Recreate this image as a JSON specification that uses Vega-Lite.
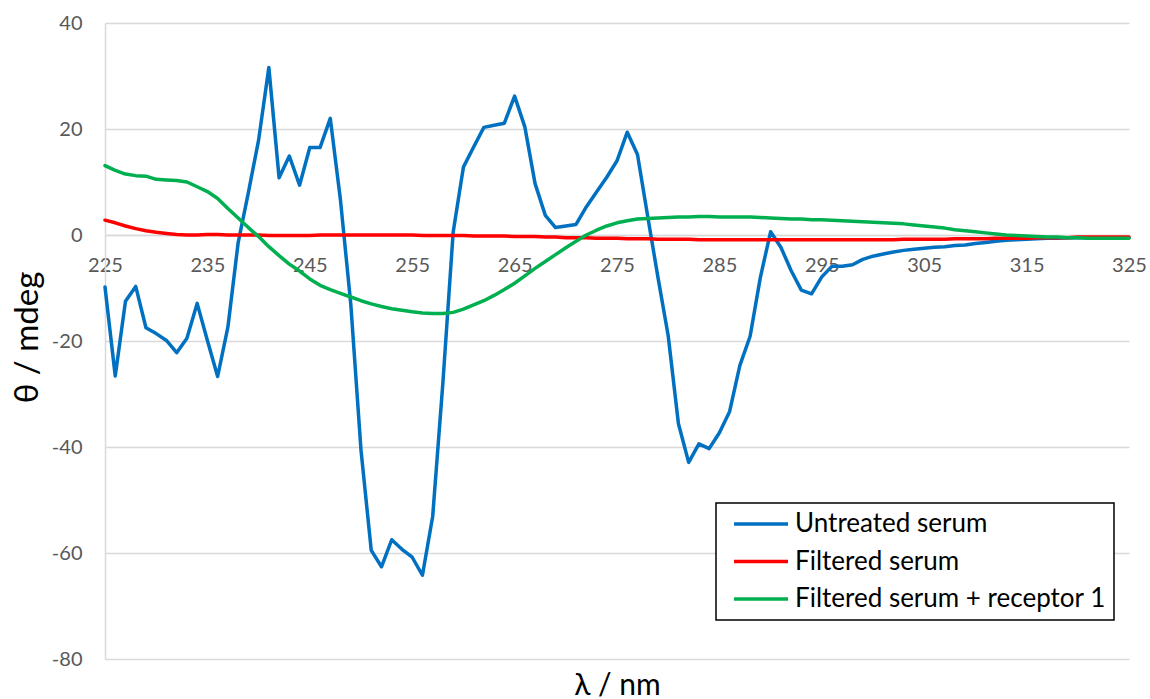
{
  "$schema": "https://vega.github.io/schema/vega-lite/v6.json",
  "width": 1024,
  "height": 636,
  "autosize": {"type": "none"},
  "padding": {"left": 105, "top": 23, "right": 21, "bottom": 40},
  "background": "white",
  "config": {
    "font": "Lato",
    "view": {"stroke": null},
    "legend": {"strokeWidth": 1.5}
  },
  "data": {
    "values": [
      {"wl":225,"Untreated serum":-9.8,"Filtered serum":2.8,"Filtered serum + receptor 1":13.1},
      {"wl":226,"Untreated serum":-26.6,"Filtered serum":2.3,"Filtered serum + receptor 1":12.2},
      {"wl":227,"Untreated serum":-12.5,"Filtered serum":1.7,"Filtered serum + receptor 1":11.5},
      {"wl":228,"Untreated serum":-9.7,"Filtered serum":1.2,"Filtered serum + receptor 1":11.2},
      {"wl":229,"Untreated serum":-17.5,"Filtered serum":0.8,"Filtered serum + receptor 1":11.1},
      {"wl":230,"Untreated serum":-18.6,"Filtered serum":0.5,"Filtered serum + receptor 1":10.5},
      {"wl":231,"Untreated serum":-19.9,"Filtered serum":0.3,"Filtered serum + receptor 1":10.4},
      {"wl":232,"Untreated serum":-22.2,"Filtered serum":0.1,"Filtered serum + receptor 1":10.3},
      {"wl":233,"Untreated serum":-19.5,"Filtered serum":0.0,"Filtered serum + receptor 1":10.0},
      {"wl":234,"Untreated serum":-12.9,"Filtered serum":0.0,"Filtered serum + receptor 1":9.1},
      {"wl":235,"Untreated serum":-19.9,"Filtered serum":0.1,"Filtered serum + receptor 1":8.2},
      {"wl":236,"Untreated serum":-26.7,"Filtered serum":0.1,"Filtered serum + receptor 1":6.9},
      {"wl":237,"Untreated serum":-17.4,"Filtered serum":0.0,"Filtered serum + receptor 1":5.0},
      {"wl":238,"Untreated serum":-1.5,"Filtered serum":0.0,"Filtered serum + receptor 1":3.2},
      {"wl":239,"Untreated serum":8.0,"Filtered serum":0.0,"Filtered serum + receptor 1":1.4},
      {"wl":240,"Untreated serum":17.9,"Filtered serum":0.0,"Filtered serum + receptor 1":-0.3},
      {"wl":241,"Untreated serum":31.6,"Filtered serum":-0.1,"Filtered serum + receptor 1":-2.2},
      {"wl":242,"Untreated serum":10.8,"Filtered serum":-0.1,"Filtered serum + receptor 1":-3.9},
      {"wl":243,"Untreated serum":14.9,"Filtered serum":-0.1,"Filtered serum + receptor 1":-5.5},
      {"wl":244,"Untreated serum":9.4,"Filtered serum":-0.1,"Filtered serum + receptor 1":-6.8},
      {"wl":245,"Untreated serum":16.5,"Filtered serum":-0.1,"Filtered serum + receptor 1":-8.3},
      {"wl":246,"Untreated serum":16.5,"Filtered serum":0.0,"Filtered serum + receptor 1":-9.5},
      {"wl":247,"Untreated serum":22.0,"Filtered serum":0.0,"Filtered serum + receptor 1":-10.3},
      {"wl":248,"Untreated serum":6.5,"Filtered serum":0.0,"Filtered serum + receptor 1":-11.0},
      {"wl":249,"Untreated serum":-13.0,"Filtered serum":0.0,"Filtered serum + receptor 1":-11.7},
      {"wl":250,"Untreated serum":-40.6,"Filtered serum":0.0,"Filtered serum + receptor 1":-12.4},
      {"wl":251,"Untreated serum":-59.5,"Filtered serum":0.0,"Filtered serum + receptor 1":-13.0},
      {"wl":252,"Untreated serum":-62.6,"Filtered serum":0.0,"Filtered serum + receptor 1":-13.5},
      {"wl":253,"Untreated serum":-57.5,"Filtered serum":0.0,"Filtered serum + receptor 1":-13.9},
      {"wl":254,"Untreated serum":-59.3,"Filtered serum":0.0,"Filtered serum + receptor 1":-14.2},
      {"wl":255,"Untreated serum":-60.8,"Filtered serum":0.0,"Filtered serum + receptor 1":-14.5},
      {"wl":256,"Untreated serum":-64.2,"Filtered serum":-0.1,"Filtered serum + receptor 1":-14.7},
      {"wl":257,"Untreated serum":-53.1,"Filtered serum":-0.1,"Filtered serum + receptor 1":-14.8},
      {"wl":258,"Untreated serum":-27.8,"Filtered serum":-0.1,"Filtered serum + receptor 1":-14.8},
      {"wl":259,"Untreated serum":0.5,"Filtered serum":-0.1,"Filtered serum + receptor 1":-14.6},
      {"wl":260,"Untreated serum":12.8,"Filtered serum":-0.1,"Filtered serum + receptor 1":-14.0},
      {"wl":261,"Untreated serum":16.6,"Filtered serum":-0.2,"Filtered serum + receptor 1":-13.2},
      {"wl":262,"Untreated serum":20.3,"Filtered serum":-0.2,"Filtered serum + receptor 1":-12.4},
      {"wl":263,"Untreated serum":20.7,"Filtered serum":-0.2,"Filtered serum + receptor 1":-11.4},
      {"wl":264,"Untreated serum":21.1,"Filtered serum":-0.2,"Filtered serum + receptor 1":-10.3},
      {"wl":265,"Untreated serum":26.2,"Filtered serum":-0.3,"Filtered serum + receptor 1":-9.1},
      {"wl":266,"Untreated serum":20.4,"Filtered serum":-0.3,"Filtered serum + receptor 1":-7.7},
      {"wl":267,"Untreated serum":9.7,"Filtered serum":-0.3,"Filtered serum + receptor 1":-6.3},
      {"wl":268,"Untreated serum":3.7,"Filtered serum":-0.4,"Filtered serum + receptor 1":-5.0},
      {"wl":269,"Untreated serum":1.4,"Filtered serum":-0.4,"Filtered serum + receptor 1":-3.7},
      {"wl":270,"Untreated serum":1.7,"Filtered serum":-0.5,"Filtered serum + receptor 1":-2.4},
      {"wl":271,"Untreated serum":2.0,"Filtered serum":-0.5,"Filtered serum + receptor 1":-1.2},
      {"wl":272,"Untreated serum":5.3,"Filtered serum":-0.5,"Filtered serum + receptor 1":0.0},
      {"wl":273,"Untreated serum":8.1,"Filtered serum":-0.6,"Filtered serum + receptor 1":0.9},
      {"wl":274,"Untreated serum":10.9,"Filtered serum":-0.6,"Filtered serum + receptor 1":1.7},
      {"wl":275,"Untreated serum":14.0,"Filtered serum":-0.6,"Filtered serum + receptor 1":2.3},
      {"wl":276,"Untreated serum":19.4,"Filtered serum":-0.7,"Filtered serum + receptor 1":2.7},
      {"wl":277,"Untreated serum":15.2,"Filtered serum":-0.7,"Filtered serum + receptor 1":3.0},
      {"wl":278,"Untreated serum":3.5,"Filtered serum":-0.7,"Filtered serum + receptor 1":3.1},
      {"wl":279,"Untreated serum":-8.0,"Filtered serum":-0.8,"Filtered serum + receptor 1":3.2},
      {"wl":280,"Untreated serum":-19.0,"Filtered serum":-0.8,"Filtered serum + receptor 1":3.3},
      {"wl":281,"Untreated serum":-35.6,"Filtered serum":-0.8,"Filtered serum + receptor 1":3.4},
      {"wl":282,"Untreated serum":-42.9,"Filtered serum":-0.8,"Filtered serum + receptor 1":3.4},
      {"wl":283,"Untreated serum":-39.4,"Filtered serum":-0.9,"Filtered serum + receptor 1":3.5},
      {"wl":284,"Untreated serum":-40.3,"Filtered serum":-0.9,"Filtered serum + receptor 1":3.5},
      {"wl":285,"Untreated serum":-37.3,"Filtered serum":-0.9,"Filtered serum + receptor 1":3.4},
      {"wl":286,"Untreated serum":-33.3,"Filtered serum":-0.9,"Filtered serum + receptor 1":3.4},
      {"wl":287,"Untreated serum":-24.6,"Filtered serum":-0.9,"Filtered serum + receptor 1":3.4},
      {"wl":288,"Untreated serum":-19.1,"Filtered serum":-0.9,"Filtered serum + receptor 1":3.4},
      {"wl":289,"Untreated serum":-8.0,"Filtered serum":-0.9,"Filtered serum + receptor 1":3.3},
      {"wl":290,"Untreated serum":0.6,"Filtered serum":-0.9,"Filtered serum + receptor 1":3.2},
      {"wl":291,"Untreated serum":-2.3,"Filtered serum":-0.9,"Filtered serum + receptor 1":3.1},
      {"wl":292,"Untreated serum":-6.7,"Filtered serum":-0.9,"Filtered serum + receptor 1":3.0},
      {"wl":293,"Untreated serum":-10.4,"Filtered serum":-0.9,"Filtered serum + receptor 1":3.0},
      {"wl":294,"Untreated serum":-11.1,"Filtered serum":-0.9,"Filtered serum + receptor 1":2.9},
      {"wl":295,"Untreated serum":-7.9,"Filtered serum":-0.9,"Filtered serum + receptor 1":2.9},
      {"wl":296,"Untreated serum":-5.9,"Filtered serum":-0.9,"Filtered serum + receptor 1":2.8},
      {"wl":297,"Untreated serum":-5.9,"Filtered serum":-0.9,"Filtered serum + receptor 1":2.7},
      {"wl":298,"Untreated serum":-5.6,"Filtered serum":-0.9,"Filtered serum + receptor 1":2.6},
      {"wl":299,"Untreated serum":-4.6,"Filtered serum":-0.9,"Filtered serum + receptor 1":2.5},
      {"wl":300,"Untreated serum":-4.0,"Filtered serum":-0.9,"Filtered serum + receptor 1":2.4},
      {"wl":301,"Untreated serum":-3.6,"Filtered serum":-0.9,"Filtered serum + receptor 1":2.3},
      {"wl":302,"Untreated serum":-3.2,"Filtered serum":-0.9,"Filtered serum + receptor 1":2.2},
      {"wl":303,"Untreated serum":-2.9,"Filtered serum":-0.8,"Filtered serum + receptor 1":2.1},
      {"wl":304,"Untreated serum":-2.7,"Filtered serum":-0.8,"Filtered serum + receptor 1":1.9},
      {"wl":305,"Untreated serum":-2.5,"Filtered serum":-0.8,"Filtered serum + receptor 1":1.7},
      {"wl":306,"Untreated serum":-2.3,"Filtered serum":-0.8,"Filtered serum + receptor 1":1.5},
      {"wl":307,"Untreated serum":-2.2,"Filtered serum":-0.8,"Filtered serum + receptor 1":1.3},
      {"wl":308,"Untreated serum":-2.0,"Filtered serum":-0.7,"Filtered serum + receptor 1":1.0},
      {"wl":309,"Untreated serum":-1.9,"Filtered serum":-0.7,"Filtered serum + receptor 1":0.8},
      {"wl":310,"Untreated serum":-1.6,"Filtered serum":-0.7,"Filtered serum + receptor 1":0.6},
      {"wl":311,"Untreated serum":-1.4,"Filtered serum":-0.7,"Filtered serum + receptor 1":0.4},
      {"wl":312,"Untreated serum":-1.2,"Filtered serum":-0.6,"Filtered serum + receptor 1":0.2},
      {"wl":313,"Untreated serum":-1.0,"Filtered serum":-0.6,"Filtered serum + receptor 1":0.0},
      {"wl":314,"Untreated serum":-0.9,"Filtered serum":-0.6,"Filtered serum + receptor 1":-0.1},
      {"wl":315,"Untreated serum":-0.8,"Filtered serum":-0.6,"Filtered serum + receptor 1":-0.2},
      {"wl":316,"Untreated serum":-0.7,"Filtered serum":-0.5,"Filtered serum + receptor 1":-0.3},
      {"wl":317,"Untreated serum":-0.6,"Filtered serum":-0.5,"Filtered serum + receptor 1":-0.4},
      {"wl":318,"Untreated serum":-0.6,"Filtered serum":-0.5,"Filtered serum + receptor 1":-0.4},
      {"wl":319,"Untreated serum":-0.5,"Filtered serum":-0.5,"Filtered serum + receptor 1":-0.5},
      {"wl":320,"Untreated serum":-0.5,"Filtered serum":-0.4,"Filtered serum + receptor 1":-0.5},
      {"wl":321,"Untreated serum":-0.5,"Filtered serum":-0.4,"Filtered serum + receptor 1":-0.6},
      {"wl":322,"Untreated serum":-0.5,"Filtered serum":-0.4,"Filtered serum + receptor 1":-0.6},
      {"wl":323,"Untreated serum":-0.5,"Filtered serum":-0.4,"Filtered serum + receptor 1":-0.6},
      {"wl":324,"Untreated serum":-0.5,"Filtered serum":-0.4,"Filtered serum + receptor 1":-0.6},
      {"wl":325,"Untreated serum":-0.5,"Filtered serum":-0.4,"Filtered serum + receptor 1":-0.6}
    ]
  },
  "transform": [
    {"fold": ["Untreated serum", "Filtered serum", "Filtered serum + receptor 1"], "as": ["series", "v"]}
  ],
  "mark": {"type": "line", "strokeWidth": 3.5, "strokeJoin": "round", "strokeCap": "round", "clip": false},
  "encoding": {
    "x": {
      "field": "wl",
      "type": "quantitative",
      "scale": {"domain": [225, 325], "nice": false, "zero": false},
      "axis": {
        "values": [225, 235, 245, 255, 265, 275, 285, 295, 305, 315, 325],
        "offset": -424,
        "grid": false,
        "ticks": false,
        "domainColor": "#d9d9d9",
        "domainWidth": 1.5,
        "labelColor": "#595959",
        "labelFontSize": 20,
        "labelPadding": 20,
        "labelFlush": false,
        "labelOverlap": false,
        "title": "λ / nm",
        "titleFontSize": 30,
        "titleFontWeight": "normal",
        "titleColor": "#000000",
        "titleBaseline": "middle",
        "titleY": 450
      }
    },
    "y": {
      "field": "v",
      "type": "quantitative",
      "scale": {"domain": [-80, 40], "nice": false, "zero": false},
      "axis": {
        "values": [-80, -60, -40, -20, 0, 20, 40],
        "labelExpr": "'' + datum.value",
        "grid": true,
        "gridColor": "#d9d9d9",
        "gridWidth": 1.5,
        "ticks": false,
        "domainColor": "#d9d9d9",
        "domainWidth": 1.5,
        "labelColor": "#595959",
        "labelFontSize": 20,
        "labelPadding": 23,
        "title": "θ / mdeg",
        "titleFontSize": 33,
        "titleFontWeight": "normal",
        "titleColor": "#000000",
        "titleBaseline": "middle",
        "titleX": -78,
        "titleY": 314
      }
    },
    "color": {
      "field": "series",
      "type": "nominal",
      "scale": {
        "domain": ["Untreated serum", "Filtered serum", "Filtered serum + receptor 1"],
        "range": ["#0070C0", "#FF0000", "#00B050"]
      },
      "legend": {
        "title": null,
        "orient": "none",
        "legendX": 611,
        "legendY": 480,
        "direction": "vertical",
        "symbolType": "stroke",
        "symbolSize": 2916,
        "symbolStrokeWidth": 3.5,
        "symbolOffset": 8,
        "clipHeight": 26,
        "labelFontSize": 26,
        "labelColor": "#000000",
        "labelOffset": 5,
        "labelLimit": 600,
        "rowPadding": 11.5,
        "padding": 8,
        "strokeColor": "#000000",
        "fillColor": "#ffffff"
      }
    }
  }
}
